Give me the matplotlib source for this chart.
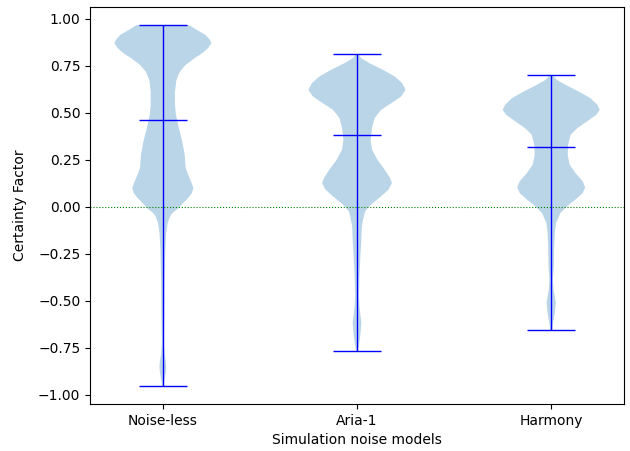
import numpy as np
import matplotlib
matplotlib.use("Agg")
import matplotlib.pyplot as plt

# noise models on the x axis
models = ["Noise-less", "Aria-1", "Harmony"]

# density outlines (value, relative half width)
noiseless_y = [-0.952, -0.925, -0.881, -0.855, -0.828, -0.78, -0.721, -0.58, -0.403,
               -0.226, -0.138, -0.085, -0.05, -0.032, -0.005, 0.021, 0.047, 0.074,
               0.101, 0.136, 0.172, 0.207, 0.278, 0.348, 0.419, 0.49, 0.543, 0.613,
               0.675, 0.719, 0.755, 0.79, 0.817, 0.844, 0.87, 0.888, 0.914, 0.94, 0.967]
noiseless_w = [0.01, 0.03, 0.06, 0.07, 0.065, 0.035, 0.02, 0.03, 0.035,
               0.05, 0.07, 0.10, 0.15, 0.20, 0.33, 0.42, 0.52, 0.60,
               0.63, 0.58, 0.52, 0.47, 0.45, 0.40, 0.33, 0.27, 0.25, 0.25,
               0.28, 0.35, 0.47, 0.65, 0.81, 0.93, 1.0, 0.97, 0.88, 0.71, 0.54]

aria_y = [-0.765, -0.721, -0.668, -0.615, -0.575, -0.527, -0.474, -0.368, -0.262,
          -0.174, -0.103, -0.05, -0.023, 0.0, 0.021, 0.057, 0.092, 0.127, 0.154,
          0.198, 0.251, 0.304, 0.357, 0.419, 0.472, 0.517, 0.552, 0.587, 0.622,
          0.658, 0.693, 0.728, 0.764, 0.79, 0.813]
aria_w = [0.02, 0.05, 0.075, 0.09, 0.07, 0.05, 0.04, 0.05, 0.07,
          0.09, 0.10, 0.14, 0.17, 0.24, 0.33, 0.50, 0.65, 0.72, 0.68,
          0.57, 0.42, 0.31, 0.28, 0.31, 0.36, 0.50, 0.71, 0.91, 1.0,
          0.93, 0.78, 0.54, 0.26, 0.09, 0.02]

harmony_y = [-0.656, -0.615, -0.562, -0.509, -0.47, -0.439, -0.386, -0.315, -0.226,
             -0.138, -0.085, -0.05, -0.032, 0.004, 0.039, 0.074, 0.104, 0.136, 0.18,
             0.225, 0.278, 0.331, 0.384, 0.419, 0.455, 0.49, 0.516, 0.543, 0.578,
             0.613, 0.649, 0.675, 0.702]
harmony_w = [0.02, 0.04, 0.075, 0.095, 0.07, 0.05, 0.035, 0.055, 0.06,
             0.075, 0.10, 0.16, 0.19, 0.33, 0.50, 0.65, 0.70, 0.65, 0.50,
             0.38, 0.34, 0.35, 0.40, 0.54, 0.74, 0.93, 1.0, 0.95, 0.81,
             0.57, 0.30, 0.12, 0.02]

medians = [0.463, 0.382, 0.316]
mins = [-0.952, -0.765, -0.656]
maxs = [0.967, 0.813, 0.702]

outlines = [(noiseless_y, noiseless_w), (aria_y, aria_w), (harmony_y, harmony_w)]
stats = []
for (ys, ws), med, lo, hi in zip(outlines, medians, mins, maxs):
    stats.append({"coords": np.array(ys), "vals": np.array(ws),
                  "mean": med, "median": med, "min": lo, "max": hi})

fig = plt.figure(figsize=(6.3, 4.51), dpi=100)
ax = fig.add_axes([0.1429, 0.1042, 0.8476, 0.8803])

pos = [1, 2, 3]
parts = ax.violin(stats, positions=pos, widths=0.5, showmedians=True)
for key in ["cbars", "cmins", "cmaxes", "cmedians"]:
    parts[key].set_color("blue")
    parts[key].set_linewidth(1.0)

ax.axhline(0, color="green", linestyle=":", linewidth=0.8)

ax.set_xticks(pos)
ax.set_xticklabels(models)
ax.set_xlim(0.625, 3.375)
ax.set_ylim(-1.048, 1.063)
ax.set_xlabel("Simulation noise models")
ax.set_ylabel("Certainty Factor", labelpad=8)

fig.savefig("out.png", dpi=100)
